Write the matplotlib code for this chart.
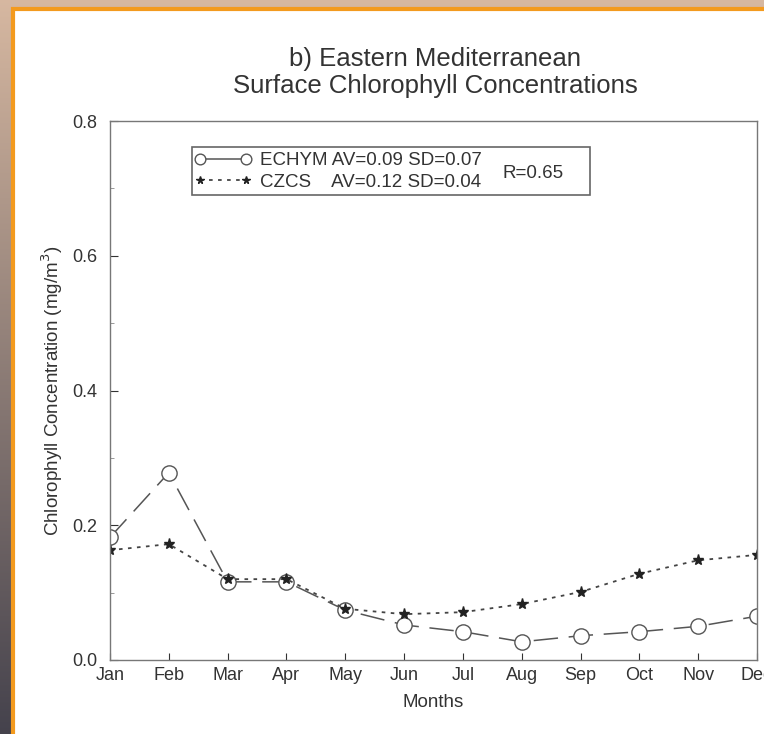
import numpy as np
import matplotlib.pyplot as plt
from matplotlib.patches import Rectangle

plt.rcParams['font.family'] = ['Liberation Sans', 'DejaVu Sans']

# Monthly surface chlorophyll (mg/m3)
months = ['Jan', 'Feb', 'Mar', 'Apr', 'May', 'Jun', 'Jul', 'Aug', 'Sep', 'Oct', 'Nov', 'Dec']
echym = [0.182, 0.278, 0.116, 0.116, 0.074, 0.052, 0.042, 0.027, 0.036, 0.042, 0.050, 0.065]
czcs = [0.163, 0.172, 0.120, 0.120, 0.076, 0.068, 0.071, 0.083, 0.101, 0.128, 0.148, 0.156]
echym_label = 'ECHYM AV=0.09 SD=0.07'
czcs_label = 'CZCS    AV=0.12 SD=0.04'
r_label = 'R=0.65'

W, H = 764, 734
fig = plt.figure(figsize=(W / 100, H / 100), dpi=100)

# slide backdrop: tan on top, darkening down the left edge
bg = fig.add_axes([0, 0, 1, 1])
grad = np.linspace(0, 1, 256)[:, None]
top_col = np.array([0.84, 0.72, 0.63])
bot_col = np.array([0.27, 0.26, 0.30])
img = top_col * (1 - grad[..., None]) + bot_col * grad[..., None]
img = np.repeat(img, 4, axis=1)
bg.imshow(img, aspect='auto', extent=[0, 1, 0, 1], origin='upper')
bg.set_xlim(0, 1)
bg.set_ylim(0, 1)
bg.axis('off')
bg.add_patch(Rectangle((13 / W, -0.01), 1.0, 1 - 9 / H + 0.01,
                       facecolor='white', edgecolor='#f39a1e', linewidth=3))

ax = fig.add_axes([110 / W, 1 - 660 / H, (757 - 110) / W, (660 - 121) / H])
x = np.arange(len(months))

ax.plot(x, echym, color='#555555', linewidth=1.1, dashes=(16, 7),
        marker='o', markersize=11, markerfacecolor='white',
        markeredgecolor='#555555', markeredgewidth=1.0, label=echym_label)
ax.plot(x, czcs, color='#444444', linewidth=1.3, dashes=(2, 3),
        marker='*', markersize=8, markerfacecolor='#222222',
        markeredgecolor='#222222', label=czcs_label)

ax.set_xlim(0, 11)
ax.set_ylim(0, 0.8)
ax.set_xticks(x)
ax.set_xticklabels(months)
ax.set_yticks([0.0, 0.2, 0.4, 0.6, 0.8])
ax.set_yticklabels(['0.0', '0.2', '0.4', '0.6', '0.8'])
ax.set_yticks(np.arange(0.1, 0.8, 0.2), minor=True)
ax.tick_params(direction='in', length=6, labelsize=13, colors='#333333')
ax.tick_params(axis='y', pad=9)
ax.tick_params(axis='x', pad=5, length=5)
ax.tick_params(which='minor', direction='in', length=3, colors='#888888')
for s in ax.spines.values():
    s.set_color('#777777')
    s.set_linewidth(1.0)

ax.set_xlabel('Months', fontsize=13.5, color='#333333', labelpad=7)
ax.set_ylabel('Chlorophyll Concentration (mg/m$^3$)', fontsize=13.5,
              color='#333333', labelpad=5)

fig.text(435 / W, 1 - 66 / H, 'b) Eastern Mediterranean', ha='center', va='baseline',
         fontsize=18.5, color='#333333')
fig.text(435 / W, 1 - 93 / H, 'Surface Chlorophyll Concentrations', ha='center',
         va='baseline', fontsize=18.5, color='#333333')

# legend box with correlation note
leg = ax.legend(loc='upper left', bbox_to_anchor=((194 - 110) / 647, (660 - 152) / 539),
                frameon=False, fontsize=13.5, numpoints=2, markerscale=0.7,
                handlelength=3.06, handletextpad=0.45, labelspacing=0.25,
                borderpad=0, borderaxespad=0)
for t in leg.get_texts():
    t.set_color('#333333')
leg.get_lines()[0].set_linestyle('-')
ax.add_patch(Rectangle(((192 - 110) / 647, (660 - 195) / 539), (590 - 192) / 647,
                       48 / 539, transform=ax.transAxes, fill=False,
                       edgecolor='#666666', linewidth=1.2))
ax.text((503 - 110) / 647, (660 - 173) / 539, r_label, transform=ax.transAxes,
        fontsize=13.5, va='center', color='#333333')

fig.savefig('out.png', dpi=100)
